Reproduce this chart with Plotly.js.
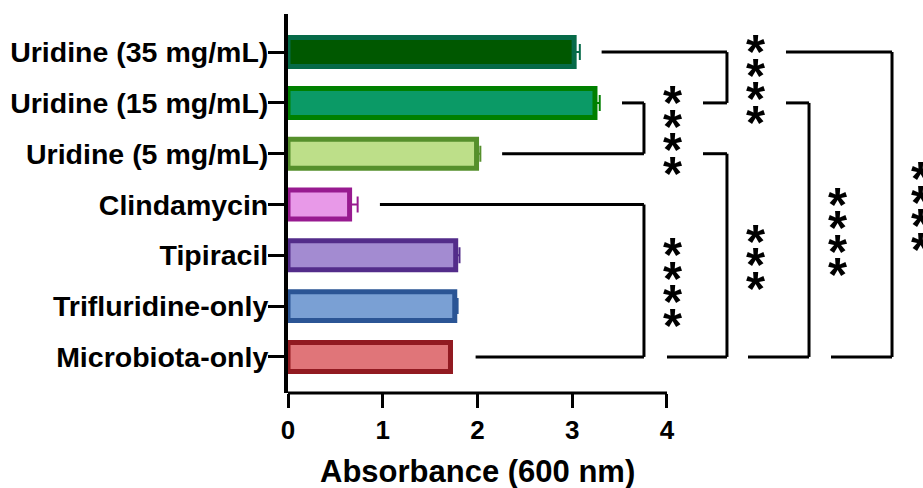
<!DOCTYPE html>
<html>
<head>
<meta charset="utf-8">
<script src="https://cdn.plot.ly/plotly-3.0.1.min.js"></script>
<style>html,body{margin:0;padding:0;background:#fff;}#chart{width:923px;height:488px;}</style>
</head>
<body>
<div id="chart"></div>
<script>
// ---- data ----
const categories = ['Microbiota-only', 'Trifluridine-only', 'Tipiracil', 'Clindamycin',
  'Uridine (5 mg/mL)', 'Uridine (15 mg/mL)', 'Uridine (35 mg/mL)'];
const absorbance = [1.715, 1.76, 1.77, 0.65, 1.99, 3.24, 3.02];
const errors = [0.01, 0.03, 0.04, 0.085, 0.04, 0.05, 0.06];
const fillColors = ['#e07579', '#7aa0d4', '#a38bd1', '#e899e8', '#bddf89', '#0b9a66', '#005800'];
const lineColors = ['#921a21', '#2b5595', '#532c8a', '#981a90', '#56902c', '#008000', '#066a48'];
const xTicks = [0, 1, 2, 3, 4];
const xTitle = 'Absorbance (600 nm)';

// significance comparisons
const compTop = ['Uridine (35 mg/mL)', 'Uridine (15 mg/mL)', 'Clindamycin', 'Uridine (5 mg/mL)', 'Uridine (15 mg/mL)', 'Uridine (35 mg/mL)'];
const compBottom = ['Uridine (15 mg/mL)', 'Uridine (5 mg/mL)', 'Microbiota-only', 'Microbiota-only', 'Microbiota-only', 'Microbiota-only'];
const compStars = ['****', '****', '****', '***', '****', '****'];

// bracket geometry (layout, in x-axis units)
const bracketGeom = [
  {topStart: 3.31, bottomStart: 4.38, vx: 4.633},
  {topStart: 3.525, bottomStart: 2.26, vx: 3.757},
  {topStart: 0.97, bottomStart: 1.98, vx: 3.757},
  {topStart: 4.38, bottomStart: 4.0, vx: 4.633},
  {topStart: 5.256, bottomStart: 4.855, vx: 5.499},
  {topStart: 5.256, bottomStart: 5.731, vx: 6.375}
];

const FONT = 'Liberation Sans, Arial, sans-serif';

const traces = categories.map((c, i) => ({
  type: 'bar',
  orientation: 'h',
  y: [c],
  x: [absorbance[i]],
  width: 0.57,
  marker: {color: fillColors[i], line: {color: lineColors[i], width: 5}},
  error_x: {type: 'data', array: [errors[i]], arrayminus: [0], symmetric: false,
            color: lineColors[i], thickness: 2, width: 8},
  showlegend: false,
  hoverinfo: 'x+y'
}));

const shapes = [];
const annotations = [];
const lineStyle = {color: '#000', width: 3};
bracketGeom.forEach((g, k) => {
  const yt = categories.indexOf(compTop[k]);
  const yb = categories.indexOf(compBottom[k]);
  shapes.push({type: 'line', xref: 'x', yref: 'y', x0: g.topStart, x1: g.vx, y0: yt, y1: yt, line: lineStyle});
  shapes.push({type: 'line', xref: 'x', yref: 'y', x0: g.vx, x1: g.vx, y0: yt, y1: yb, line: lineStyle});
  shapes.push({type: 'line', xref: 'x', yref: 'y', x0: g.bottomStart, x1: g.vx, y0: yb, y1: yb, line: lineStyle});
  const n = compStars[k].length;
  const ym = (yt + yb) / 2;
  for (let i = 0; i < n; i++) {
    annotations.push({
      xref: 'x', yref: 'y', x: g.vx, y: ym, xshift: 29,
      yshift: ((n - 1) / 2 - i) * 23.5 - 9,
      text: compStars[k][i], showarrow: false,
      xanchor: 'center', yanchor: 'middle',
      font: {family: FONT, size: 49, color: '#000', weight: 700}
    });
  }
});

// x axis line only from 0 to 4
shapes.push({type: 'line', xref: 'x', yref: 'paper', x0: 0, x1: xTicks[xTicks.length - 1], y0: 0, y1: 0,
  line: {color: '#000', width: 3}});

annotations.push({
  xref: 'x', yref: 'paper', x: (xTicks[0] + xTicks[xTicks.length - 1]) / 2, y: 0,
  yshift: -78, xanchor: 'center', yanchor: 'middle', showarrow: false,
  text: xTitle, font: {family: FONT, size: 31, color: '#000', weight: 700}
});

const layout = {
  width: 923, height: 488,
  margin: {l: 288, r: 0, t: 14, b: 95, pad: 0},
  paper_bgcolor: '#fff', plot_bgcolor: '#fff',
  barmode: 'overlay',
  showlegend: false,
  xaxis: {
    range: [0, 6.702], showgrid: false, zeroline: false, showline: false,
    tickvals: xTicks, ticktext: xTicks.map(String),
    ticks: 'outside', ticklen: 14, tickwidth: 3, tickcolor: '#000',
    tickfont: {family: FONT, size: 26, color: '#000', weight: 700}
  },
  yaxis: {
    type: 'category', categoryorder: 'array', categoryarray: categories,
    range: [-0.71, 6.75], showgrid: false, zeroline: false,
    showline: true, linewidth: 4, linecolor: '#000',
    ticks: 'outside', ticklen: 16, tickwidth: 3, tickcolor: '#000',
    ticklabelstandoff: -6,
    tickfont: {family: FONT, size: 28.5, color: '#000', weight: 700}
  },
  shapes: shapes,
  annotations: annotations
};

Plotly.newPlot('chart', traces, layout, {displayModeBar: false, staticPlot: true});
</script>
</body>
</html>
